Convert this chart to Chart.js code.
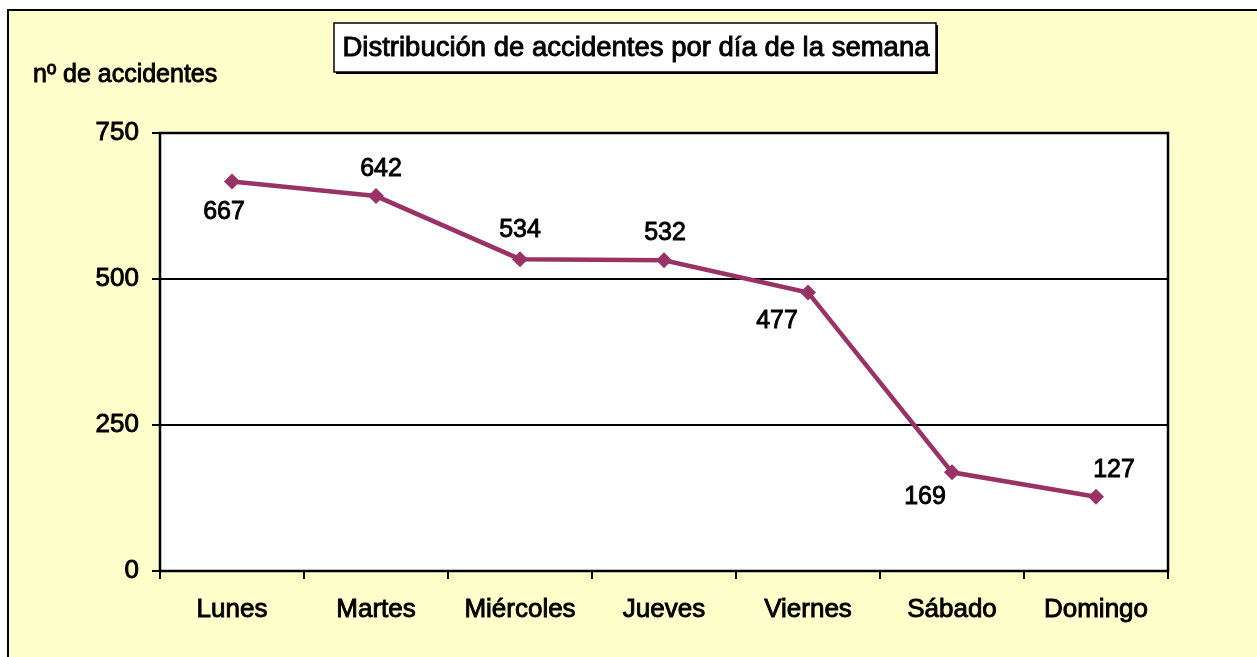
<!DOCTYPE html>
<html>
<head>
<meta charset="utf-8">
<script src="https://cdn.jsdelivr.net/npm/chart.js@4"></script>
<style>
html,body{margin:0;padding:0;background:#fff;}
#wrap{width:1257px;height:657px;position:relative;}
</style>
</head>
<body>
<div id="wrap"><canvas id="c" width="1257" height="657"></canvas></div>
<script>
const categories = ['Lunes', 'Martes', 'Miércoles', 'Jueves', 'Viernes', 'Sábado', 'Domingo'];
const accidents = [667, 642, 534, 532, 477, 169, 127];
const yTicks = [0, 250, 500, 750];
const chartTitle = 'Distribución de accidentes por día de la semana';
const yAxisTitle = 'nº de accidentes';

// label offsets (style only, in px relative to point)
const labelOffsets = [[-8, 31], [5, -27], [0, -29], [1, -27], [-31, 29], [-27, 25], [18, -27]];

const FONT = '"Liberation Sans", Arial, Helvetica, sans-serif';
const LINE = '#993366';
const STROKE = 0.9;

function heavyText(ctx, txt, x, y) {
  ctx.lineWidth = STROKE;
  ctx.strokeStyle = '#000';
  ctx.strokeText(txt, x, y);
  ctx.fillText(txt, x, y);
}

const decor = {
  id: 'decor',
  beforeDraw(chart) {
    const ctx = chart.ctx;
    const a = chart.chartArea;
    ctx.save();
    ctx.fillStyle = '#FFFFFF';
    ctx.fillRect(0, 0, chart.width, chart.height);
    ctx.fillStyle = '#FFFFCC';
    ctx.fillRect(8, 10, chart.width, chart.height);
    ctx.strokeStyle = '#000';
    ctx.lineWidth = 2;
    ctx.beginPath();
    ctx.moveTo(8, chart.height + 5);
    ctx.lineTo(8, 10);
    ctx.lineTo(chart.width + 5, 10);
    ctx.stroke();
    ctx.fillStyle = '#FFFFFF';
    ctx.fillRect(a.left, a.top, a.right - a.left, a.bottom - a.top);
    // title box with shadow
    const bx = 334, by = 23, bw = 602, bh = 49;
    ctx.fillStyle = '#000';
    ctx.fillRect(bx + 2, by + 2, bw, bh);
    ctx.fillStyle = '#fff';
    ctx.fillRect(bx, by, bw, bh);
    ctx.lineWidth = 1.5;
    ctx.strokeRect(bx, by, bw, bh);
    ctx.fillStyle = '#000';
    ctx.font = '27.5px ' + FONT;
    ctx.textAlign = 'center';
    ctx.textBaseline = 'middle';
    heavyText(ctx, chartTitle, bx + bw / 2 + 1, by + bh / 2 + 1);
    ctx.textAlign = 'left';
    ctx.font = '25px ' + FONT;
    heavyText(ctx, yAxisTitle, 33, 75);
    ctx.restore();
  },
  afterDatasetsDraw(chart) {
    const ctx = chart.ctx;
    const a = chart.chartArea;
    ctx.save();
    ctx.strokeStyle = '#000';
    ctx.lineWidth = 2.5;
    ctx.strokeRect(a.left, a.top, a.right - a.left, a.bottom - a.top);
    const meta = chart.getDatasetMeta(0);
    ctx.fillStyle = '#000';
    ctx.font = '25px ' + FONT;
    ctx.textAlign = 'center';
    ctx.textBaseline = 'middle';
    meta.data.forEach((pt, i) => {
      const off = labelOffsets[i];
      heavyText(ctx, String(chart.data.datasets[0].data[i]), pt.x + off[0], pt.y + off[1]);
    });
    ctx.restore();
  }
};

new Chart(document.getElementById('c'), {
  type: 'line',
  data: {
    labels: categories,
    datasets: [{
      data: accidents,
      borderColor: LINE,
      backgroundColor: LINE,
      borderWidth: 4.5,
      pointStyle: 'rectRot',
      pointRadius: 8,
      pointHoverRadius: 8,
      pointBorderWidth: 0,
      tension: 0
    }]
  },
  options: {
    responsive: false,
    animation: false,
    events: [],
    layout: { padding: { left: 0, top: 133, right: 89, bottom: 0 } },
    plugins: { legend: { display: false }, title: { display: false }, tooltip: { enabled: false } },
    scales: {
      x: {
        offset: true,
        grid: { offset: true, drawOnChartArea: false, color: '#000', lineWidth: 2, tickLength: 8, tickColor: '#000' },
        border: { display: false },
        ticks: { color: '#000', font: { family: FONT, size: 26 }, textStrokeColor: '#000', textStrokeWidth: STROKE, padding: 15, maxRotation: 0 },
        afterFit(s) { s.height = 657 - 571; }
      },
      y: {
        min: 0, max: 750,
        afterBuildTicks(s) { s.ticks = yTicks.map(v => ({ value: v })); },
        grid: { color: '#000', lineWidth: 2, tickLength: 8, tickColor: '#000' },
        border: { display: false },
        ticks: { color: '#000', font: { family: FONT, size: 26 }, textStrokeColor: '#000', textStrokeWidth: STROKE, padding: 13 },
        afterFit(s) { s.width = 160; }
      }
    }
  },
  plugins: [decor]
});
</script>
</body>
</html>
